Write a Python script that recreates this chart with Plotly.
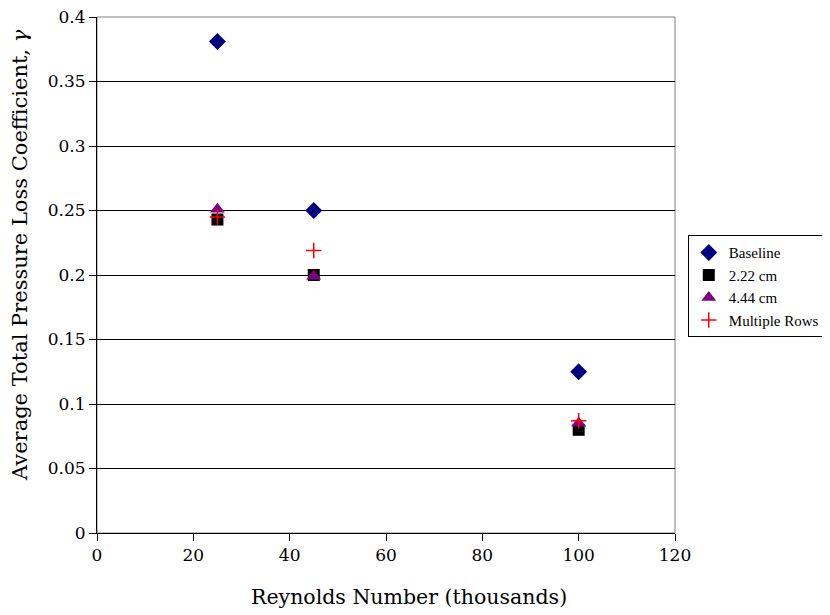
import plotly.graph_objects as go

reynolds = [25, 45, 100]
baseline = [0.381, 0.250, 0.125]
cm222 = [0.243, 0.200, 0.080]
cm444 = [0.251, 0.199, 0.085]
multiple_rows = [0.245, 0.219, 0.087]

x_ticks = [0, 20, 40, 60, 80, 100, 120]
y_ticks = [0, 0.05, 0.1, 0.15, 0.2, 0.25, 0.3, 0.35, 0.4]
y_tick_text = ["0", "0.05", "0.1", "0.15", "0.2", "0.25", "0.3", "0.35", "0.4"]

x_title = "Reynolds Number (thousands)"
y_title = "Average Total Pressure Loss Coefficient, <i>γ</i>"

font = "DejaVu Serif, serif"
legend_font = "Liberation Serif, Times New Roman, serif"

fig = go.Figure()
fig.add_trace(go.Scatter(x=reynolds, y=baseline, mode="markers", name="Baseline",
                         marker=dict(symbol="diamond", size=13, color="#000080")))
fig.add_trace(go.Scatter(x=reynolds, y=cm222, mode="markers", name="2.22 cm",
                         marker=dict(symbol="square", size=12, color="#000000")))
fig.add_trace(go.Scatter(x=reynolds, y=cm444, mode="markers", name="4.44 cm",
                         marker=dict(symbol="triangle-up", size=13, color="#800080")))
fig.add_trace(go.Scatter(x=reynolds, y=multiple_rows, mode="markers", name="Multiple Rows",
                         marker=dict(symbol="cross-thin", size=11, color="#FF0000",
                                     line=dict(color="#FF0000", width=1.5))))

fig.add_shape(type="rect", xref="paper", yref="paper", x0=0, y0=0, x1=1, y1=1,
              line=dict(color="#808080", width=1), layer="below")

fig.add_annotation(text=x_title, xref="paper", yref="paper", x=0.54, y=-0.124,
                   xanchor="center", yanchor="middle", showarrow=False,
                   font=dict(family=font, size=20.5, color="black"))
fig.add_annotation(text=y_title, xref="paper", yref="paper", x=-0.133, y=0.539,
                   xanchor="center", yanchor="middle", showarrow=False, textangle=-90,
                   font=dict(family=font, size=21, color="black"))

# page body has an 8px margin, so the figure is shrunk by 8px and margins adjusted
fig.update_layout(
    width=822, height=607,
    margin=dict(l=89, r=155, t=9, b=82),
    paper_bgcolor="white", plot_bgcolor="white",
    font=dict(family=font, size=17, color="black"),
    showlegend=True,
    legend=dict(xref="container", x=0.827, y=0.577, xanchor="left", yanchor="top",
                bordercolor="black", borderwidth=1, bgcolor="white",
                font=dict(family=legend_font, size=15), tracegroupgap=0, itemwidth=30),
    xaxis=dict(range=[0, 120], tickvals=x_ticks, showgrid=False, zeroline=False,
               showline=True, linecolor="black", linewidth=1, automargin=False,
               ticks="outside", ticklen=7, tickcolor="black",
               ticklabeloverflow="allow", tickfont=dict(size=17)),
    yaxis=dict(range=[0, 0.4], tickvals=y_ticks, ticktext=y_tick_text,
               showgrid=True, gridcolor="black", gridwidth=1, zeroline=False,
               showline=True, linecolor="black", linewidth=1, automargin=False,
               ticks="outside", ticklen=7, tickcolor="black",
               ticklabeloverflow="allow", tickfont=dict(size=17)),
)

fig.write_html("out.html")
